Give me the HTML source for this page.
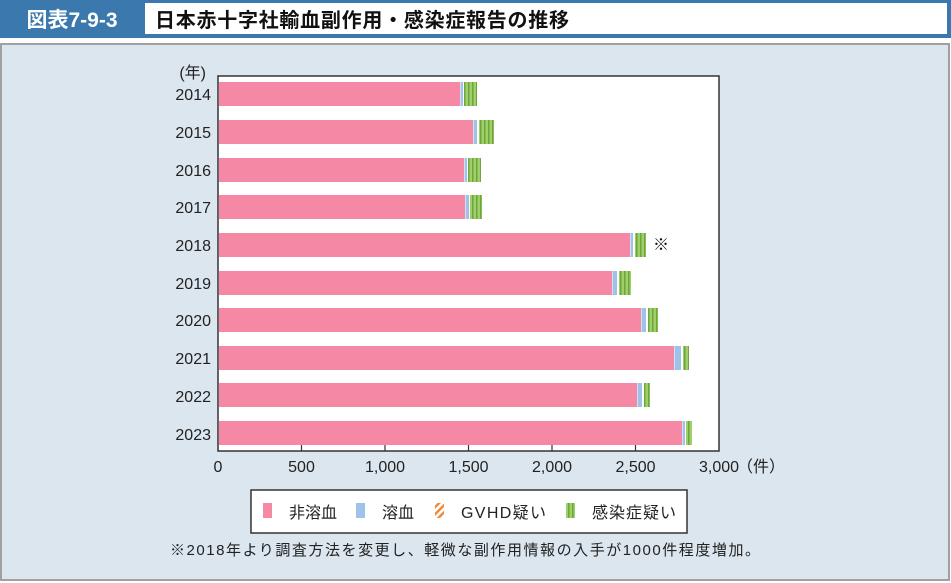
<!DOCTYPE html>
<html><head><meta charset="utf-8"><style>
html,body{margin:0;padding:0;background:#fff;}
svg{display:block;font-family:"Liberation Sans","Noto Sans CJK JP",sans-serif;}
</style></head><body>
<svg width="951" height="583" viewBox="0 0 951 583" xmlns="http://www.w3.org/2000/svg">
<defs>
<pattern id="grn" width="4" height="4" patternUnits="userSpaceOnUse">
<rect width="4" height="4" fill="#9fcf6a"/><rect width="1.5" height="4" fill="#6fa53a"/>
</pattern>
<pattern id="org" width="5" height="5" patternUnits="userSpaceOnUse" patternTransform="rotate(45)">
<rect width="5" height="5" fill="#fff"/><rect width="2.5" height="5" fill="#f08a3c"/>
</pattern>
</defs>
<rect x="0" y="0" width="951" height="38" fill="#3a78ad"/>
<rect x="145" y="3" width="802" height="31" fill="#fff"/>
<text x="72" y="27" font-size="21" font-weight="bold" fill="#fff" text-anchor="middle">図表7-9-3</text>
<text x="155" y="27" font-size="20" font-weight="bold" fill="#111" textLength="414">日本赤十字社輸血副作用・感染症報告の推移</text>
<rect x="1" y="44" width="948" height="536" fill="#dbe6ee" stroke="#a0a0a0" stroke-width="2"/>
<rect x="218" y="76" width="501" height="375" fill="#fff" stroke="#333" stroke-width="1.5"/>
<g font-size="16" fill="#222" text-anchor="end">
<text x="206" y="78">(年)</text>
<text x="211" y="100">2014</text><text x="211" y="138">2015</text><text x="211" y="176">2016</text>
<text x="211" y="213">2017</text><text x="211" y="251">2018</text><text x="211" y="289">2019</text>
<text x="211" y="326">2020</text><text x="211" y="364">2021</text><text x="211" y="402">2022</text>
<text x="211" y="440">2023</text>
</g>
<g>
<rect x="219" y="82" width="241" height="24" fill="#f589a5"/><rect x="460.5" y="82" width="2.5" height="24" fill="#9fc3e8"/><rect x="464" y="82" width="13" height="24" fill="url(#grn)"/>
<rect x="219" y="120" width="254" height="24" fill="#f589a5"/><rect x="473.5" y="120" width="3.5" height="24" fill="#9fc3e8"/><rect x="479" y="120" width="15" height="24" fill="url(#grn)"/>
<rect x="219" y="158" width="245" height="24" fill="#f589a5"/><rect x="464.5" y="158" width="2.5" height="24" fill="#9fc3e8"/><rect x="468" y="158" width="13" height="24" fill="url(#grn)"/>
<rect x="219" y="195" width="246" height="24" fill="#f589a5"/><rect x="465.5" y="195" width="3.5" height="24" fill="#9fc3e8"/><rect x="470" y="195" width="12" height="24" fill="url(#grn)"/>
<rect x="219" y="233" width="411" height="24" fill="#f589a5"/><rect x="630.5" y="233" width="2.5" height="24" fill="#9fc3e8"/><rect x="635" y="233" width="11" height="24" fill="url(#grn)"/>
<rect x="219" y="271" width="393" height="24" fill="#f589a5"/><rect x="612.5" y="271" width="4.5" height="24" fill="#9fc3e8"/><rect x="619" y="271" width="12" height="24" fill="url(#grn)"/>
<rect x="219" y="308" width="422" height="24" fill="#f589a5"/><rect x="641.5" y="308" width="4.5" height="24" fill="#9fc3e8"/><rect x="648" y="308" width="10" height="24" fill="url(#grn)"/>
<rect x="219" y="346" width="455" height="24" fill="#f589a5"/><rect x="674.5" y="346" width="6.5" height="24" fill="#9fc3e8"/><rect x="683" y="346" width="6" height="24" fill="url(#grn)"/>
<rect x="219" y="383" width="418" height="24" fill="#f589a5"/><rect x="637.5" y="383" width="4.5" height="24" fill="#9fc3e8"/><rect x="644" y="383" width="6" height="24" fill="url(#grn)"/>
<rect x="219" y="421" width="463" height="24" fill="#f589a5"/><rect x="682.5" y="421" width="2.5" height="24" fill="#9fc3e8"/><rect x="686" y="421" width="6" height="24" fill="url(#grn)"/>
</g>
<text x="653" y="250" font-size="16" fill="#111">※</text>
<g stroke="#333" stroke-width="1.2">
<line x1="301.5" y1="451" x2="301.5" y2="445"/><line x1="385" y1="451" x2="385" y2="445"/>
<line x1="468.5" y1="451" x2="468.5" y2="445"/><line x1="552" y1="451" x2="552" y2="445"/>
<line x1="635.5" y1="451" x2="635.5" y2="445"/>
</g>
<g font-size="16" fill="#222" text-anchor="middle">
<text x="218" y="472">0</text><text x="301.5" y="472">500</text><text x="385" y="472">1,000</text>
<text x="468.5" y="472">1,500</text><text x="552" y="472">2,000</text><text x="635.5" y="472">2,500</text>
<text x="719" y="472">3,000</text><text x="761" y="472">（件）</text>
</g>
<rect x="251" y="490" width="436" height="43" fill="#fff" stroke="#333" stroke-width="1.5"/>
<rect x="263" y="503" width="9" height="15" fill="#f589a5"/>
<text x="289" y="518" font-size="16" fill="#222" textLength="48">非溶血</text>
<rect x="356" y="503" width="9" height="15" fill="#9fc3e8"/>
<text x="382" y="518" font-size="16" fill="#222" textLength="32">溶血</text>
<rect x="435" y="503" width="9" height="15" fill="url(#org)"/>
<text x="461" y="518" font-size="16" fill="#222" textLength="85">GVHD疑い</text>
<rect x="566" y="503" width="9" height="15" fill="url(#grn)"/>
<text x="592" y="518" font-size="16" fill="#222" textLength="84">感染症疑い</text>
<text x="170" y="555" font-size="15" fill="#222" textLength="590">※2018年より調査方法を変更し、軽微な副作用情報の入手が1000件程度増加。</text>
</svg>
</body></html>
